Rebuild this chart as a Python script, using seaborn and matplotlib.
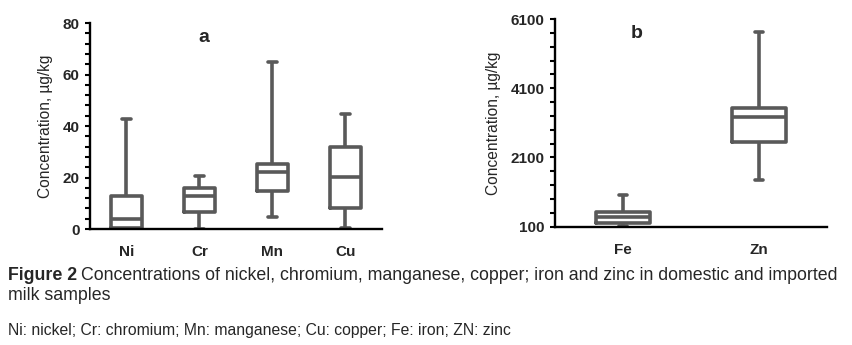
import numpy as np
import pandas as pd
import seaborn as sns
import matplotlib.pyplot as plt
from matplotlib.ticker import FixedLocator

# five-number summaries (min, Q1, median, Q3, max), µg/kg
metals_a = ['Ni', 'Cr', 'Mn', 'Cu']
ni = [0.0, 0.2, 3.9, 12.8, 42.7]
cr = [0.0, 6.5, 12.8, 15.8, 20.6]
mn = [4.5, 14.9, 22.1, 25.1, 65.0]
cu = [0.5, 8.2, 20.2, 31.8, 44.7]

metals_b = ['Fe', 'Zn']
fe = [120, 221, 366, 539, 1007]
zn = [1440, 2538, 3277, 3520, 5715]

ticks_a = [0, 20, 40, 60, 80]
ticks_b = [100, 2100, 4100, 6100]

caption_1 = 'Concentrations of nickel, chromium, manganese, copper; iron and zinc in domestic and imported'
caption_2 = 'milk samples'
caption_3 = 'Ni: nickel; Cr: chromium; Mn: manganese; Cu: copper; Fe: iron; ZN: zinc'

# long-format tables; with 5 points per group the quartiles land on the listed values
df_a = pd.DataFrame({'Metal': np.repeat(metals_a, 5),
                     'Conc': ni + cr + mn + cu})
df_b = pd.DataFrame({'Metal': np.repeat(metals_b, 5),
                     'Conc': fe + zn})

sns.set_style('white')
plt.rcParams['font.family'] = ['Liberation Sans', 'DejaVu Sans']

grey = '#595959'
box_kws = dict(whis=(0, 100), fill=False, color=grey, linewidth=2.6,
               showfliers=False, linecolor=grey)

fig = plt.figure(figsize=(8.52, 3.45), dpi=100)
ax1 = fig.add_axes([0.1056, 0.3362, 0.3427, 0.597])
ax2 = fig.add_axes([0.6514, 0.3429, 0.3192, 0.602])

sns.boxplot(data=df_a, x='Metal', y='Conc', order=metals_a, width=0.43,
            capwidths=0.12, ax=ax1, **box_kws)
sns.boxplot(data=df_b, x='Metal', y='Conc', order=metals_b, width=0.4,
            capwidths=0.065, ax=ax2, **box_kws)

for ax, ticks, minor, label, lx in [(ax1, ticks_a, 4, 'a', 0.39),
                                    (ax2, ticks_b, 400, 'b', 0.30)]:
    ax.set_ylim(ticks[0], ticks[-1])
    ax.set_yticks(ticks)
    ax.yaxis.set_minor_locator(FixedLocator(np.arange(ticks[0], ticks[-1] + 1, minor)))
    ax.set_xlabel('')
    ax.set_ylabel('Concentration, µg/kg', fontsize=11.2, labelpad=7)
    for s in ['top', 'right']:
        ax.spines[s].set_visible(False)
    for s in ['left', 'bottom']:
        ax.spines[s].set_color('black')
        ax.spines[s].set_linewidth(1.7)
    ax.tick_params(axis='y', which='both', left=True, direction='out',
                   length=3.5, width=1.5, color='black', labelsize=11, pad=4)
    ax.tick_params(axis='x', bottom=False, labelsize=11, pad=8)
    for t in ax.get_xticklabels() + ax.get_yticklabels():
        t.set_fontweight('bold')
    ax.text(lx, 0.93, label, transform=ax.transAxes, fontsize=14,
            fontweight='bold', ha='center', va='center')

# caption
fig_lbl = fig.text(0.0094, 1 - 275 / 345, 'Figure 2', fontsize=12.8,
                   fontweight='bold', va='center')
fig.canvas.draw()
x_after = (fig_lbl.get_window_extent().x1 + 4) / fig.bbox.width
fig.text(x_after, 1 - 275 / 345, caption_1, fontsize=12.8, va='center')
fig.text(0.0094, 1 - 296 / 345, caption_2, fontsize=12.8, va='center')
fig.text(0.0094, 1 - 331 / 345, caption_3, fontsize=11.3, va='center')

fig.savefig('out.png', dpi=100)
